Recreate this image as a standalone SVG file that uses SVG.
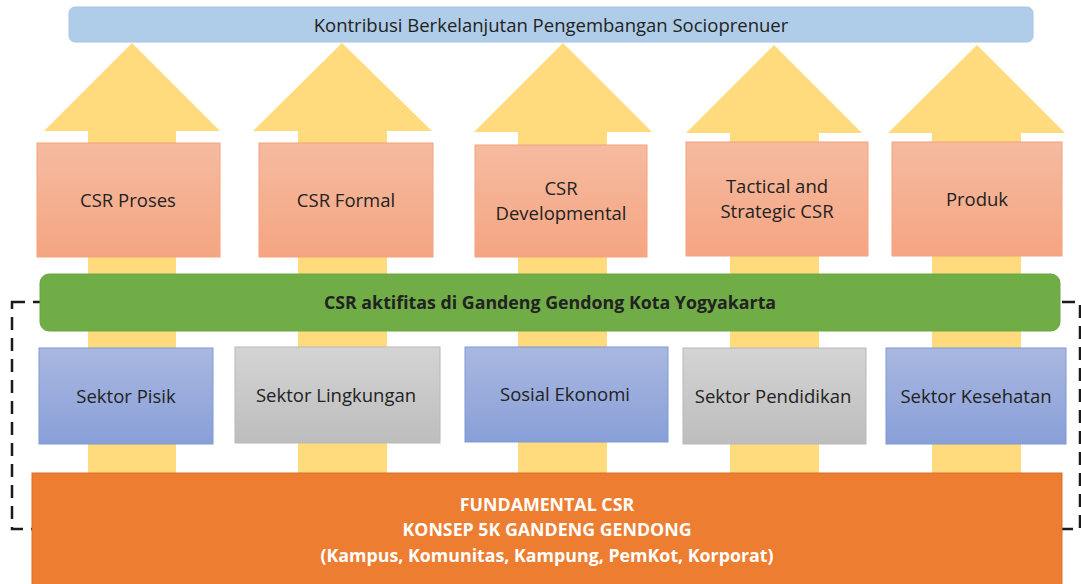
<svg xmlns="http://www.w3.org/2000/svg" width="1081" height="584" viewBox="0 0 1081 584">
  <defs>
    <linearGradient id="gSalmon" x1="0" y1="0" x2="0" y2="1">
      <stop offset="0" stop-color="#F5BBA0"/>
      <stop offset="1" stop-color="#F5A582"/>
    </linearGradient>
    <linearGradient id="gBlue" x1="0" y1="0" x2="0" y2="1">
      <stop offset="0" stop-color="#AAB8E0"/>
      <stop offset="1" stop-color="#889FD8"/>
    </linearGradient>
    <linearGradient id="gGray" x1="0" y1="0" x2="0" y2="1">
      <stop offset="0" stop-color="#D4D4D4"/>
      <stop offset="1" stop-color="#BDBDBD"/>
    </linearGradient>
    <style>
      .arrow { fill: #FFDB7D; }
      .csr { fill: url(#gSalmon); stroke: #F4A27C; stroke-width: 1; }
      .blue { fill: url(#gBlue); stroke: #7E9AD6; stroke-width: 1; }
      .gray { fill: url(#gGray); stroke: #B8B8B8; stroke-width: 1; }
      .lbl { font-family: "Open Sans", Lato, "Liberation Sans", sans-serif; font-size: 18.5px; fill: #222222; text-anchor: middle; }
      .bold { font-weight: bold; font-size: 17.8px; }
      .white { fill: #FFFFFF; }
    </style>
  </defs>

  <rect width="1081" height="584" fill="#FFFFFF"/>

  <!-- dashed frame around the activity band -->
  <rect x="12" y="302" width="1068" height="227" fill="none" stroke="#1A1A1A" stroke-width="2.5" stroke-dasharray="13,8"/>

  <!-- upward block arrows -->
  <g id="connectors">
    <polygon class="arrow" points="132,43 220,131 176,131 176,476 88,476 88,131 44,131"/>
    <polygon class="arrow" points="342,43 432,131 387,131 387,476 298,476 298,131 253,131"/>
    <polygon class="arrow" points="563,43 652,132 607,132 607,476 518,476 518,132 474,132"/>
    <polygon class="arrow" points="774,45 862,133 819,133 819,476 730,476 730,133 686,133"/>
    <polygon class="arrow" points="977,45 1065,133 1021,133 1021,476 932,476 932,133 888,133"/>
  </g>

  <g id="top-bar">
    <rect x="69" y="7" width="964" height="35" rx="6" fill="#AFCDE9" stroke="#A6C4E4" stroke-width="1"/>
    <text class="lbl" x="551" y="32">Kontribusi Berkelanjutan Pengembangan Socioprenuer</text>
  </g>

  <g id="csr-proses">
    <rect class="csr" x="37" y="143" width="183" height="114"/>
    <text class="lbl" x="128" y="207">CSR Proses</text>
  </g>
  <g id="csr-formal">
    <rect class="csr" x="259" y="143" width="174" height="114"/>
    <text class="lbl" x="346" y="207">CSR Formal</text>
  </g>
  <g id="csr-developmental">
    <rect class="csr" x="475" y="145" width="172" height="112"/>
    <text class="lbl" x="561" y="195">CSR</text>
    <text class="lbl" x="561" y="220">Developmental</text>
  </g>
  <g id="csr-tactical">
    <rect class="csr" x="686" y="142" width="182" height="114"/>
    <text class="lbl" x="777" y="193">Tactical and</text>
    <text class="lbl" x="777" y="218">Strategic CSR</text>
  </g>
  <g id="csr-produk">
    <rect class="csr" x="892" y="142" width="170" height="114"/>
    <text class="lbl" x="977" y="206">Produk</text>
  </g>

  <g id="activity-bar">
    <rect x="40" y="274" width="1020" height="57" rx="9" fill="#70AD47" stroke="#6AA744" stroke-width="1"/>
    <text class="lbl bold" x="550" y="309" fill="#111111">CSR aktifitas di Gandeng Gendong Kota Yogyakarta</text>
  </g>

  <g id="sektor-pisik">
    <rect class="blue" x="39" y="348" width="174" height="96"/>
    <text class="lbl" x="126" y="403">Sektor Pisik</text>
  </g>
  <g id="sektor-lingkungan">
    <rect class="gray" x="235" y="347" width="205" height="96"/>
    <text class="lbl" x="336" y="402">Sektor Lingkungan</text>
  </g>
  <g id="sosial-ekonomi">
    <rect class="blue" x="465" y="347" width="203" height="95"/>
    <text class="lbl" x="565" y="401">Sosial Ekonomi</text>
  </g>
  <g id="sektor-pendidikan">
    <rect class="gray" x="683" y="348" width="183" height="96"/>
    <text class="lbl" x="773" y="403">Sektor Pendidikan</text>
  </g>
  <g id="sektor-kesehatan">
    <rect class="blue" x="886" y="348" width="180" height="96"/>
    <text class="lbl" x="976" y="403">Sektor Kesehatan</text>
  </g>

  <g id="fundamental">
    <rect x="32" y="473" width="1030" height="120" fill="#ED7D31" stroke="#D97029" stroke-width="1"/>
    <text class="lbl bold white" x="547" y="511">FUNDAMENTAL CSR</text>
    <text class="lbl bold white" x="547" y="536">KONSEP 5K GANDENG GENDONG</text>
    <text class="lbl bold white" x="547" y="562">(Kampus, Komunitas, Kampung, PemKot, Korporat)</text>
  </g>
</svg>
